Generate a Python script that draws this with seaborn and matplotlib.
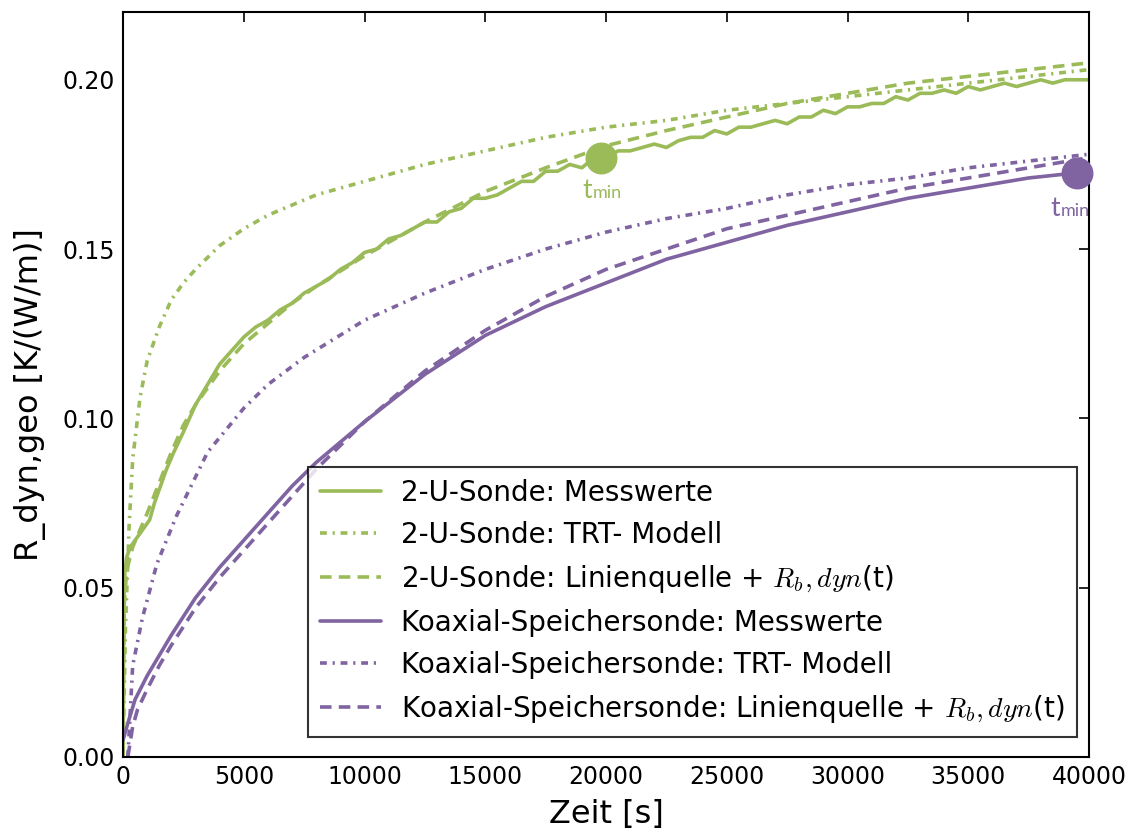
import numpy as np
import pandas as pd
import matplotlib
matplotlib.use("Agg")
import matplotlib.pyplot as plt
import seaborn as sns

# ---------------- data ----------------
green = "#9BBB59"
purple = "#8064A2"

# 2-U-Sonde: Messwerte (noisy measurement)
u_mess_t = [0, 20, 40, 80, 150, 300, 500, 700, 900, 1100, 1300, 1500, 1800, 2100, 2500,
            3000, 3500, 4000, 4500, 5000, 5500, 6000, 6500, 7000, 7500, 8000, 8500, 9000,
            9500, 10000, 10500, 11000, 11500, 12000, 12500, 13000, 13500, 14000, 14500,
            15000, 15500, 16000, 16500, 17000, 17500, 18000, 18500, 19000, 19500, 20000,
            20500, 21000, 21500, 22000, 22500, 23000, 23500, 24000, 24500, 25000, 25500,
            26000, 26500, 27000, 27500, 28000, 28500, 29000, 29500, 30000, 30500, 31000,
            31500, 32000, 32500, 33000, 33500, 34000, 34500, 35000, 35500, 36000, 36500,
            37000, 37500, 38000, 38500, 39000, 39500, 40000]
u_mess_r = [0.000, 0.030, 0.047, 0.055, 0.059, 0.062, 0.064, 0.066, 0.068, 0.070, 0.075, 0.079,
            0.085, 0.090, 0.096, 0.104, 0.110, 0.116, 0.120, 0.124, 0.127, 0.129, 0.132, 0.134,
            0.137, 0.139, 0.141, 0.144, 0.146, 0.149, 0.150, 0.153, 0.154, 0.156, 0.158, 0.158,
            0.161, 0.162, 0.165, 0.165, 0.166, 0.168, 0.170, 0.170, 0.173, 0.173, 0.175, 0.174,
            0.177, 0.177, 0.179, 0.179, 0.180, 0.181, 0.180, 0.182, 0.183, 0.183, 0.185, 0.184,
            0.186, 0.186, 0.187, 0.188, 0.187, 0.189, 0.189, 0.191, 0.190, 0.192, 0.192, 0.193,
            0.193, 0.195, 0.194, 0.196, 0.196, 0.197, 0.196, 0.198, 0.197, 0.198, 0.199, 0.198,
            0.199, 0.200, 0.199, 0.200, 0.200, 0.200]

# 2-U-Sonde: TRT- Modell
u_trt_t = [0, 100, 250, 400, 700, 1000, 1500, 2000, 2500, 3000, 4000, 5000, 6000, 7000, 8000,
           10000, 12500, 15000, 17500, 20000, 22500, 25000, 27500, 30000, 32500, 35000, 37500, 40000]
u_trt_r = [0.000, 0.038, 0.068, 0.088, 0.106, 0.117, 0.127, 0.135, 0.140, 0.144, 0.151, 0.156,
           0.160, 0.163, 0.166, 0.170, 0.175, 0.179, 0.183, 0.186, 0.188, 0.191, 0.193, 0.195,
           0.197, 0.199, 0.201, 0.203]

# 2-U-Sonde: Linienquelle + Rb,dyn(t)
u_lq_t = [0, 50, 150, 400, 700, 1000, 1500, 2000, 2500, 3000, 4000, 5000, 6000, 7000, 8000,
          10000, 12500, 15000, 17500, 20000, 22500, 25000, 27500, 30000, 32500, 35000, 37500, 40000]
u_lq_r = [0.000, 0.045, 0.055, 0.062, 0.067, 0.072, 0.081, 0.090, 0.098, 0.104, 0.114, 0.122,
          0.128, 0.134, 0.139, 0.148, 0.158, 0.167, 0.174, 0.1805, 0.185, 0.189, 0.193, 0.196,
          0.199, 0.201, 0.203, 0.205]

# Koaxial-Speichersonde: Messwerte
k_mess_t = [0, 200, 500, 1000, 1500, 2000, 3000, 4000, 5000, 6000, 7000, 8000, 9000, 10000,
            12500, 15000, 17500, 20000, 22500, 25000, 27500, 30000, 32500, 35000, 37500, 39500]
k_mess_r = [0.005, 0.010, 0.017, 0.024, 0.030, 0.036, 0.047, 0.056, 0.064, 0.072, 0.080, 0.087,
            0.093, 0.099, 0.113, 0.1245, 0.133, 0.140, 0.147, 0.152, 0.157, 0.161, 0.165, 0.168,
            0.171, 0.1725]

# Koaxial-Speichersonde: TRT- Modell
k_trt_t = [200, 400, 800, 1400, 2200, 3500, 5000, 6000, 7500, 10000, 12500, 15000, 17500, 20000,
           22500, 25000, 27500, 30000, 32500, 35000, 37500, 40000]
k_trt_r = [0.000, 0.027, 0.041, 0.057, 0.071, 0.090, 0.103, 0.110, 0.118, 0.129, 0.137, 0.144,
           0.150, 0.155, 0.159, 0.162, 0.166, 0.169, 0.171, 0.174, 0.176, 0.178]

# Koaxial-Speichersonde: Linienquelle + Rb,dyn(t)
k_lq_t = [200, 400, 600, 1000, 1500, 2000, 3000, 4000, 5000, 6000, 7000, 8000, 9000, 10000,
          12500, 15000, 17500, 20000, 22500, 25000, 27500, 30000, 32500, 35000, 37500, 40000]
k_lq_r = [0.000, 0.009, 0.014, 0.020, 0.027, 0.033, 0.044, 0.053, 0.061, 0.069, 0.077, 0.085,
          0.092, 0.099, 0.114, 0.126, 0.136, 0.144, 0.150, 0.156, 0.160, 0.164, 0.168, 0.171,
          0.174, 0.177]

# t_min points
tmin_t = [19800, 39500]
tmin_r = [0.177, 0.1725]

labels = [
    "2-U-Sonde: Messwerte",
    "2-U-Sonde: TRT- Modell",
    r"2-U-Sonde: Linienquelle + $R_b,dyn$(t)",
    "Koaxial-Speichersonde: Messwerte",
    "Koaxial-Speichersonde: TRT- Modell",
    r"Koaxial-Speichersonde: Linienquelle + $R_b,dyn$(t)",
]

# ---------------- plotting ----------------
sns.set_theme(style="white")
plt.rcParams["font.family"] = ["DejaVu Sans"]
plt.rcParams["mathtext.fontset"] = "cm"
plt.rcParams["text.color"] = "black"
plt.rcParams["axes.labelcolor"] = "black"

fig = plt.figure(figsize=(11.35, 8.36), dpi=100)
ax = fig.add_axes([0.1084, 0.0945, 0.8511, 0.8911])

dashdot = (0, (1.9, 1.6, 0.6, 1.6))
dashed = (0, (3.2, 2.0))
lw = 2.6

series = [
    (u_mess_t, u_mess_r, green, "-", labels[0]),
    (u_trt_t, u_trt_r, green, dashdot, labels[1]),
    (u_lq_t, u_lq_r, green, dashed, labels[2]),
    (k_mess_t, k_mess_r, purple, "-", labels[3]),
    (k_trt_t, k_trt_r, purple, dashdot, labels[4]),
    (k_lq_t, k_lq_r, purple, dashed, labels[5]),
]
for t, r, c, ls, lab in series:
    df = pd.DataFrame({"t": t, "r": r})
    sns.lineplot(data=df, x="t", y="r", ax=ax, color=c, linestyle=ls, lw=lw,
                 label=lab, sort=False, estimator=None)

# t_min markers
ax.plot([tmin_t[0]], [tmin_r[0]], "o", color=green, ms=22, zorder=5)
ax.plot([tmin_t[1]], [tmin_r[1]], "o", color=purple, ms=22, zorder=5, clip_on=False)

for (tx, ty), c, (dx_t, dx_m, dy) in zip(zip(tmin_t, tmin_r), [green, purple],
                                         [(-9, -8, -40), (-17, -16, -43)]):
    ax.annotate("t", xy=(tx, ty), xytext=(dx_t, dy), textcoords="offset pixels",
                ha="right", va="baseline", color=c, fontsize=19, family="Lato")
    ax.annotate("min", xy=(tx, ty), xytext=(dx_m, dy), textcoords="offset pixels",
                ha="left", va="baseline", color=c, fontsize=13, family="Lato")

ax.set_xlim(0, 40000)
ax.set_ylim(0, 0.22)
ax.set_xticks([0, 5000, 10000, 15000, 20000, 25000, 30000, 35000, 40000])
ax.set_yticks([0.00, 0.05, 0.10, 0.15, 0.20])
ax.set_yticklabels(["0.00", "0.05", "0.10", "0.15", "0.20"])
ax.tick_params(direction="in", length=7, width=1.2, top=True, right=True,
               labelsize=17, colors="black", pad=6)
for s in ax.spines.values():
    s.set_color("black")
    s.set_linewidth(1.5)

ax.set_xlabel("Zeit [s]", fontsize=23, labelpad=7, color="black")
ax.set_ylabel("R_dyn,geo [K/(W/m)]", fontsize=23, color="black")
ax.yaxis.set_label_coords(-0.08, 0.487)

leg = ax.legend(loc="lower right", bbox_to_anchor=(0.9876, 0.0268), borderaxespad=0,
                fontsize=20, frameon=True, fancybox=False, edgecolor="black",
                handlelength=2.2, handletextpad=0.7, labelspacing=0.5, borderpad=0.45)
leg.get_frame().set_linewidth(1.5)
for txt in leg.get_texts():
    txt.set_color("black")

fig.savefig("out.png", dpi=100)
